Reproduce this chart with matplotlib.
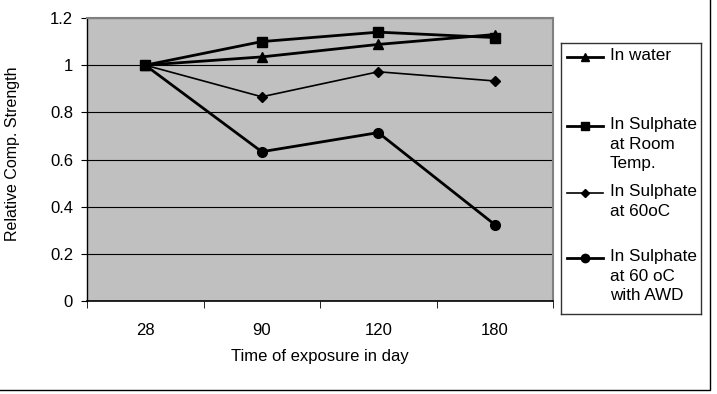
import matplotlib.pyplot as plt
from matplotlib.patches import Rectangle

plt.rcParams['font.family'] = ['Liberation Sans', 'DejaVu Sans']

# Dados
dias = ['28', '90', '120', '180']
agua = [1.0, 1.035, 1.088, 1.13]
sulfato_ambiente = [1.0, 1.10, 1.14, 1.117]
sulfato_60 = [1.0, 0.866, 0.972, 0.933]
sulfato_60_awd = [1.0, 0.633, 0.714, 0.324]

series = [
    (agua, '^', 2.0, 7, 'In water'),
    (sulfato_ambiente, 's', 2.0, 7, 'In Sulphate\nat Room\nTemp.'),
    (sulfato_60, 'D', 1.2, 5, 'In Sulphate\nat 60oC'),
    (sulfato_60_awd, 'o', 2.0, 7, 'In Sulphate\nat 60 oC\nwith AWD'),
]

fig = plt.figure(figsize=(7.17, 3.94), dpi=100)
ax = fig.add_axes([87 / 717, 1 - 301 / 394, 466 / 717, 283 / 394])
ax.set_facecolor('#c0c0c0')

x = range(len(dias))
for valores, marcador, lw, ms, nome in series:
    ax.plot(x, valores, color='black', marker=marcador, lw=lw, ms=ms)

ax.set_xlim(-0.5, len(dias) - 0.5)
ax.set_ylim(0, 1.2)
ax.set_yticks([0, 0.2, 0.4, 0.6, 0.8, 1.0, 1.2])
ax.set_yticklabels(['0', '0.2', '0.4', '0.6', '0.8', '1', '1.2'])
ax.set_xticks(list(x))
ax.set_xticklabels(dias)
ax.set_xticks([i + 0.5 for i in range(-1, len(dias))], minor=True)
ax.tick_params(axis='x', which='major', length=0, pad=16, labelsize=12)
ax.tick_params(axis='x', which='minor', length=5, direction='out')
ax.tick_params(axis='y', length=4, pad=6, direction='out', labelsize=12)
ax.yaxis.grid(True, color='black', lw=0.8)
ax.set_axisbelow(True)
for lado in ['top', 'right']:
    ax.spines[lado].set_color('#808080')
    ax.spines[lado].set_linewidth(1.5)
ax.spines['left'].set_linewidth(1.0)
ax.spines['bottom'].set_linewidth(1.2)

ax.set_xlabel('Time of exposure in day', fontsize=12, labelpad=8)
fig.text(13 / 717, 1 - 154 / 394, 'Relative Comp. Strength', fontsize=11.5,
         rotation=90, ha='center', va='center')

# Legenda desenhada à mão (estilo Excel)
lg = fig.add_axes([561 / 717, 1 - 314 / 394, 140 / 717, 271 / 394])
lg.set_xlim(0, 140)
lg.set_ylim(271, 0)
lg.set_xticks([])
lg.set_yticks([])
for s in lg.spines.values():
    s.set_linewidth(1.0)
    s.set_color('#333333')
ys = [14, 83, 150, 215]
for (valores, marcador, lw, ms, nome), y in zip(series, ys):
    lg.plot([6, 42], [y, y], color='black', lw=lw)
    lg.plot([24], [y], color='black', marker=marcador, ms=ms - 1)
    lg.text(49, y - 9, nome, fontsize=12.3, va='top', ha='left', linespacing=1.38)

# Moldura externa do gráfico
fig.patches.append(Rectangle((-0.01, 4 / 394), 710 / 717 + 0.01, 1.1,
                             transform=fig.transFigure, fill=False,
                             edgecolor='black', lw=1.0))

fig.savefig('out.png', dpi=100)
